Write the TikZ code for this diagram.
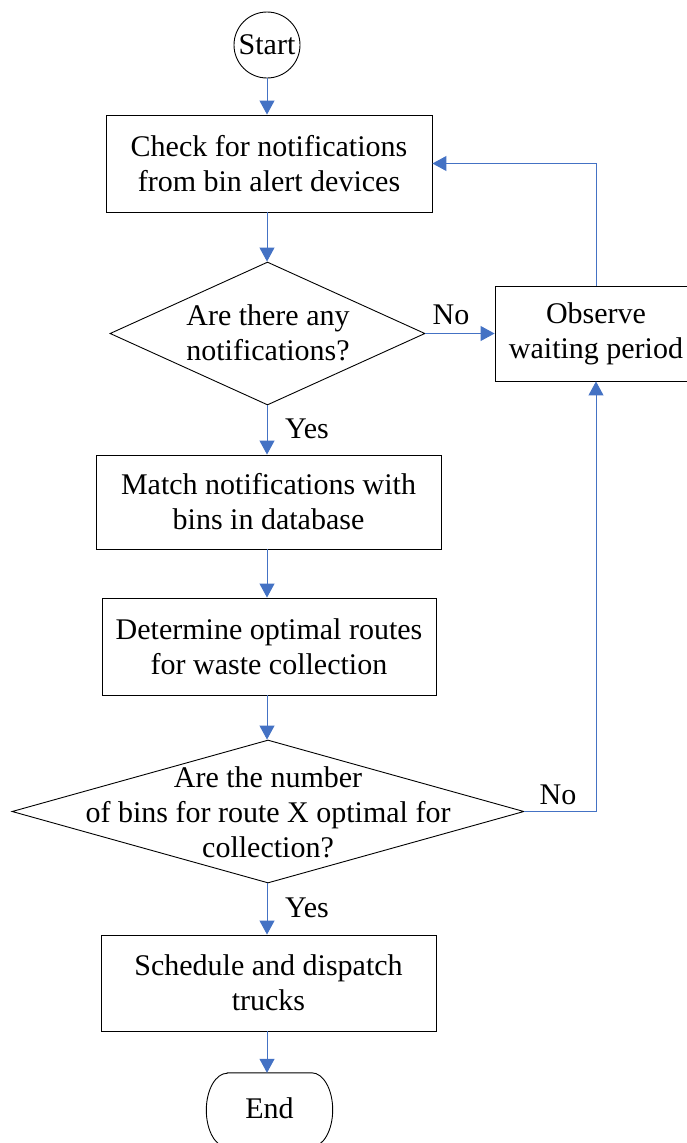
\documentclass[tikz,border=0pt]{standalone}
\usepackage{fontspec}
\setmainfont{Liberation Serif}
\usetikzlibrary{arrows.meta,shapes.geometric}
\definecolor{flowblue}{HTML}{4472C4}
\begin{document}
\begin{tikzpicture}[x=1pt,y=-1pt,
  every node/.style={font=\fontsize{30}{35}\selectfont},
  box/.style={draw=black,line width=0.9pt,rectangle,inner sep=0pt,align=center},
  decision/.style={draw=black,line width=0.9pt,diamond,inner sep=0pt},
  terminal/.style={draw=black,line width=0.9pt,inner sep=0pt},
  outline/.style={draw=black,line width=0.9pt},
  flow/.style={draw=flowblue,line width=1pt,-{Triangle[length=14pt,width=15pt]}},
  lbl/.style={inner sep=0pt}]
\useasboundingbox (0,0) rectangle (686,1143);

% terminals
\node[terminal,circle,minimum size=66pt] (start) at (267,45) {Start};
\node[inner sep=0pt,rectangle,minimum width=126pt,
      text height=45pt,text depth=29pt] (end) at (269.5,1110) {End};
% stadium outline of the end terminal, with elliptical caps
\draw[outline] ([xshift=21pt]end.north west) -- ([xshift=-21pt]end.north east)
  arc[start angle=90,end angle=-90,x radius=21pt,y radius=37pt]
  -- ([xshift=21pt]end.south west)
  arc[start angle=270,end angle=90,x radius=21pt,y radius=37pt] -- cycle;

% process boxes
\node[box,minimum width=326pt,minimum height=97pt] (check) at (269,163.5)
  {Check for notifications\\from bin alert devices};
\node[box,minimum width=202pt,minimum height=95pt] (wait) at (596,333.5)
  {Observe\\waiting period};
\node[box,minimum width=345pt,minimum height=94pt] (match) at (268.5,502)
  {Match notifications with\\bins in database};
\node[box,minimum width=334pt,minimum height=97pt] (route) at (269,646.5)
  {Determine optimal routes\\for waste collection};
\node[box,minimum width=335pt,minimum height=96pt] (dispatch) at (268.5,983)
  {Schedule and dispatch\\trucks};

% decisions
\node[decision,minimum width=315pt,minimum height=143pt] (any) at (267.5,333.5) {};
\node[align=center] (anytext) at (268,333) {Are there any\\notifications?};
\node[decision,minimum width=512pt,minimum height=143pt] (count) at (268,811.5) {};
\node[align=center] (counttext) at (268,812) {Are the number\\of bins for route X optimal for\\collection?};

% main column
\draw[flow] (start.south) -- (start.south |- check.north);
\draw[flow] (check.south -| start) -- (start |- any.north);
\draw[flow] (any.south -| start) -- (start |- match.north);
\draw[flow] (match.south -| start) -- (start |- route.north);
\draw[flow] (route.south -| start) -- (start |- count.north);
\draw[flow] (count.south -| start) -- (start |- dispatch.north);
\draw[flow] (dispatch.south -| start) -- (start |- end.north);

% waiting loop
\draw[flow] (any.east) -- (wait.west);
\draw[flow] (wait.north) -- (wait.north |- check.east) -- (check.east);
\draw[flow] (count.east) -- (count.east -| wait.south) -- (wait.south);

% branch labels
\node[lbl] (no1) at (451,315) {No};
\node[lbl] (yes1) at (307,429) {Yes};
\node[lbl] (no2) at (558,795) {No};
\node[lbl] (yes2) at (307,908) {Yes};
\end{tikzpicture}
\end{document}
